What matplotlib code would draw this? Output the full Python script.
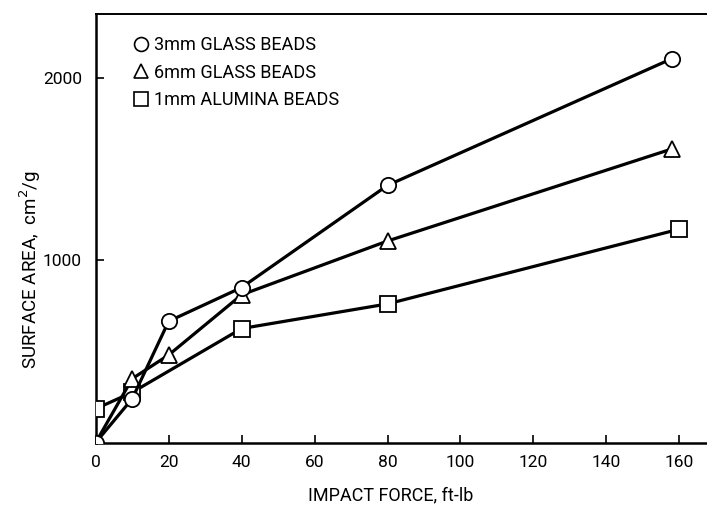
import matplotlib
matplotlib.use("Agg")
import matplotlib.pyplot as plt
from matplotlib.lines import Line2D

plt.rcParams['font.family'] = ['Roboto', 'DejaVu Sans']

# Impact force (ft-lb) and surface area (cm^2/g) for each bead type
glass3_force = [0, 10, 20, 40, 80, 158]
glass3_area = [0, 240, 665, 850, 1410, 2105]

glass6_force = [0, 10, 20, 40, 80, 158]
glass6_area = [0, 350, 480, 810, 1105, 1610]

alumina1_force = [0, 10, 40, 80, 160]
alumina1_area = [185, 275, 625, 760, 1170]

labels = ["3mm GLASS BEADS", "6mm GLASS BEADS", "1mm ALUMINA BEADS"]
x_ticks = [0, 20, 40, 60, 80, 100, 120, 140, 160]
y_ticks = [1000, 2000]

fig = plt.figure(figsize=(7.07, 5.09), dpi=100)
ax = fig.add_axes([0.1354, 0.1306, 0.8646, 0.842])

style = dict(color='black', linewidth=2.3, markersize=11,
             markerfacecolor='white', markeredgecolor='black',
             markeredgewidth=1.3)
ax.plot(alumina1_force, alumina1_area, marker='s', zorder=3, **style)
ax.plot(glass6_force, glass6_area, marker='^', zorder=4, **style)
ax.plot(glass3_force, glass3_area, marker='o', zorder=5, **style)

ax.set_xlim(0, 167.6)
ax.set_ylim(0, 2350)
ax.set_xticks(x_ticks)
ax.set_yticks(y_ticks)
ax.tick_params(direction='in', length=6, width=1.2, labelsize=12.5)
ax.tick_params(axis='x', pad=9)
ax.tick_params(axis='y', pad=10)
ax.spines['right'].set_visible(False)
for s in ['left', 'bottom']:
    ax.spines[s].set_linewidth(1.8)
ax.spines['top'].set_linewidth(1.4)

handles = [
    Line2D([], [], linestyle='none', marker='o', markersize=10,
           markerfacecolor='white', markeredgecolor='black', markeredgewidth=1.2),
    Line2D([], [], linestyle='none', marker='^', markersize=10,
           markerfacecolor='white', markeredgecolor='black', markeredgewidth=1.2),
    Line2D([], [], linestyle='none', marker='s', markersize=10,
           markerfacecolor='white', markeredgecolor='black', markeredgewidth=1.2),
]
ax.legend(handles, labels, loc='upper left', bbox_to_anchor=(0.048, 0.965),
          frameon=False, fontsize=13, handlelength=1.0, handletextpad=0.2,
          labelspacing=0.52, borderaxespad=0)

fig.text(391 / 707, 1 - 495 / 509, "IMPACT FORCE, ft-lb", ha='center',
         va='center', fontsize=13)
fig.text(30 / 707, 1 - 270 / 509, "SURFACE AREA,  cm$^2$/g", ha='center',
         va='center', rotation=90, fontsize=13.5)

fig.savefig("out.png", dpi=100)
